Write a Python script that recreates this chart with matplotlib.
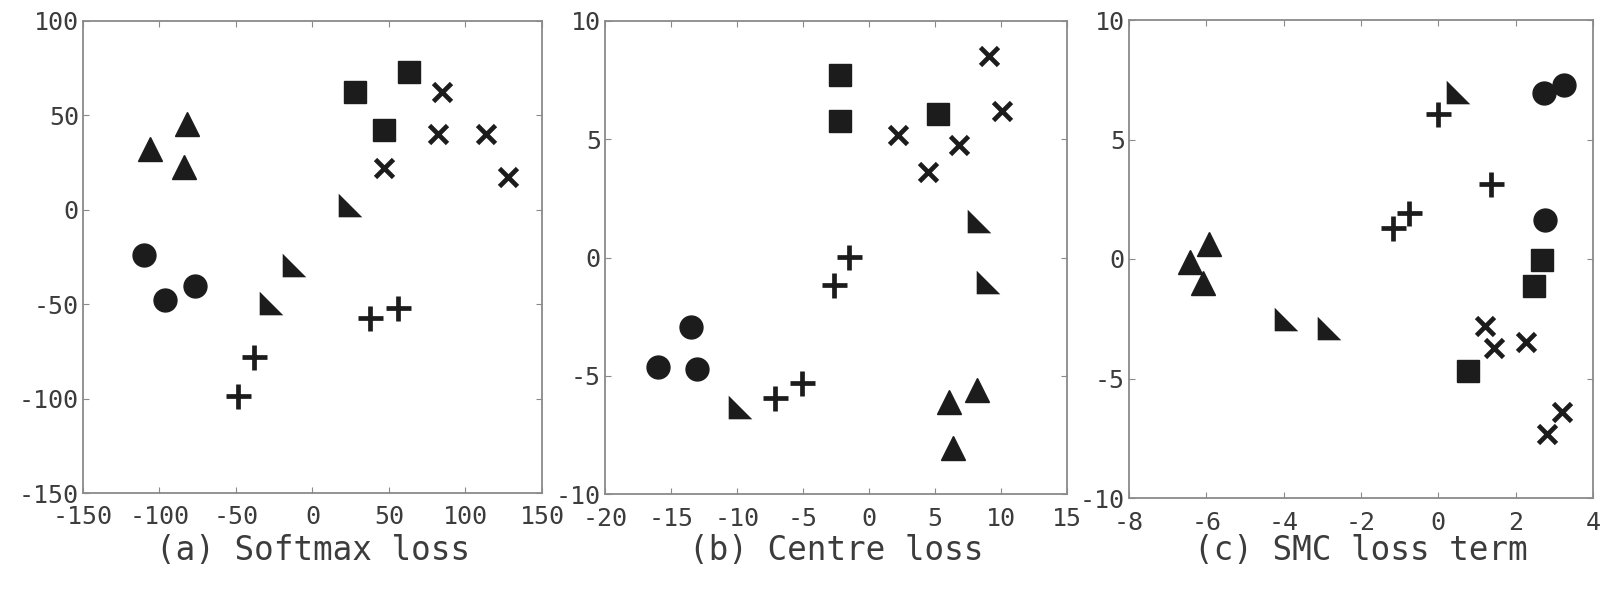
import matplotlib
matplotlib.use("Agg")
import matplotlib.pyplot as plt
import numpy as np

# --- data (one list per class/marker) ---
# (a) Softmax loss
a_circle_x = [-110.3, -96.3, -76.5]
a_circle_y = [-24.0, -48.0, -40.5]
a_tri_x = [-106.0, -82.0, -84.0]
a_tri_y = [32.0, 45.5, 22.5]
a_rtri_x = [24.8, -11.8, -27.4]
a_rtri_y = [2.8, -29.3, -49.5]
a_plus_x = [-48.4, -38.0, 37.9, 56.2]
a_plus_y = [-98.8, -77.8, -57.3, -52.0]
a_sq_x = [27.9, 62.9, 46.6]
a_sq_y = [62.5, 73.0, 42.5]
a_x_x = [84.6, 81.8, 46.6, 113.3, 127.8]
a_x_y = [62.5, 39.9, 22.0, 40.0, 17.4]

# (b) Centre loss
b_circle_x = [-13.5, -15.95, -13.0]
b_circle_y = [-2.92, -4.65, -4.73]
b_tri_x = [6.07, 8.15, 6.33]
b_tri_y = [-6.13, -5.61, -8.05]
b_rtri_x = [8.3, 8.99, -9.75]
b_rtri_y = [1.55, -1.02, -6.33]
b_plus_x = [-1.5, -2.63, -5.1, -7.1]
b_plus_y = [0.02, -1.18, -5.32, -5.93]
b_sq_x = [-2.19, -2.19, 5.21]
b_sq_y = [7.7, 5.77, 6.05]
b_x_x = [9.07, 10.04, 2.2, 6.85, 4.47]
b_x_y = [8.53, 6.21, 5.18, 4.74, 3.63]

# (c) SMC loss term
c_circle_x = [2.72, 3.25, 2.76]
c_circle_y = [6.96, 7.27, 1.62]
c_tri_x = [-6.43, -5.94, -6.08]
c_tri_y = [-0.12, 0.62, -1.02]
c_rtri_x = [0.51, -3.94, -2.83]
c_rtri_y = [6.97, -2.52, -2.87]
c_plus_x = [0.0, 1.35, -0.76, -1.17]
c_plus_y = [6.08, 3.12, 1.94, 1.3]
c_sq_x = [2.67, 2.47, 0.77]
c_sq_y = [-0.04, -1.11, -4.7]
c_x_x = [1.21, 1.44, 2.27, 3.2, 2.8]
c_x_y = [-2.8, -3.71, -3.49, -6.41, -7.31]

titles = ["(a) Softmax loss", "(b) Centre loss", "(c) SMC loss term"]
xlims = [(-150, 150), (-20, 15), (-8, 4)]
ylims = [(-150, 100), (-10, 10), (-10, 10)]
xticks = [np.arange(-150, 151, 50), np.arange(-20, 16, 5), np.arange(-8, 5, 2)]
yticks = [np.arange(-150, 101, 50), np.arange(-10, 11, 5), np.arange(-10, 11, 5)]

panels = [
    (a_circle_x, a_circle_y, a_tri_x, a_tri_y, a_rtri_x, a_rtri_y,
     a_plus_x, a_plus_y, a_sq_x, a_sq_y, a_x_x, a_x_y),
    (b_circle_x, b_circle_y, b_tri_x, b_tri_y, b_rtri_x, b_rtri_y,
     b_plus_x, b_plus_y, b_sq_x, b_sq_y, b_x_x, b_x_y),
    (c_circle_x, c_circle_y, c_tri_x, c_tri_y, c_rtri_x, c_rtri_y,
     c_plus_x, c_plus_y, c_sq_x, c_sq_y, c_x_x, c_x_y),
]

# axes boxes in pixels (left, top, right, bottom) of a 1608x592 figure
boxes = [(83, 21, 542, 493), (605, 21, 1067, 494), (1129, 20, 1593, 498)]

W, H = 1608, 592
ink = "#1c1c1c"
txt = "#3c3c3c"
spine = "#8a8a8a"
mono = "DejaVu Sans Mono"

# right-angled triangle: vertical left edge, flat bottom
rtri = [(-1, 1), (-1, -1), (1, -1), (-1, 1)]

fig = plt.figure(figsize=(W / 100, H / 100), dpi=100)

for i, data in enumerate(panels):
    l, t, r, b = boxes[i]
    ax = fig.add_axes([l / W, 1 - b / H, (r - l) / W, (b - t) / H])
    (cx, cy, tx, ty, rx, ry, px, py, sx, sy, xx, xy) = data

    ax.plot(cx, cy, "o", ms=16.5, color=ink, mec=ink, ls="none")
    ax.plot(tx, ty, "^", ms=17, color=ink, mec=ink, ls="none")
    ax.plot(rx, ry, marker=rtri, ms=17, color=ink, mec=ink, mew=0, ls="none")
    ax.plot(sx, sy, "s", ms=15.5, color=ink, mec=ink, ls="none")
    ax.plot(px, py, "+", ms=18, mew=3.4, color=ink, ls="none")
    ax.plot(xx, xy, "x", ms=13, mew=3.4, color=ink, ls="none")

    ax.set_xlim(*xlims[i])
    ax.set_ylim(*ylims[i])
    ax.set_xticks(xticks[i])
    ax.set_yticks(yticks[i])
    ax.set_xticklabels([str(v) for v in xticks[i]])
    ax.set_yticklabels([str(v) for v in yticks[i]])
    ax.tick_params(direction="in", top=True, right=True, length=4,
                   width=0.8, color=spine, labelcolor=txt, labelsize=18)
    ax.tick_params(axis="x", pad=9)
    ax.tick_params(axis="y", pad=3)
    for lab in ax.get_xticklabels() + ax.get_yticklabels():
        lab.set_family(mono)
    for s in ax.spines.values():
        s.set_color(spine)
        s.set_linewidth(1.3)

    fig.text((l + r) / 2 / W, 1 - 550 / H, titles[i], ha="center", va="center",
             fontsize=23.5, color=txt, family=mono)

fig.savefig("out.png", dpi=100)
